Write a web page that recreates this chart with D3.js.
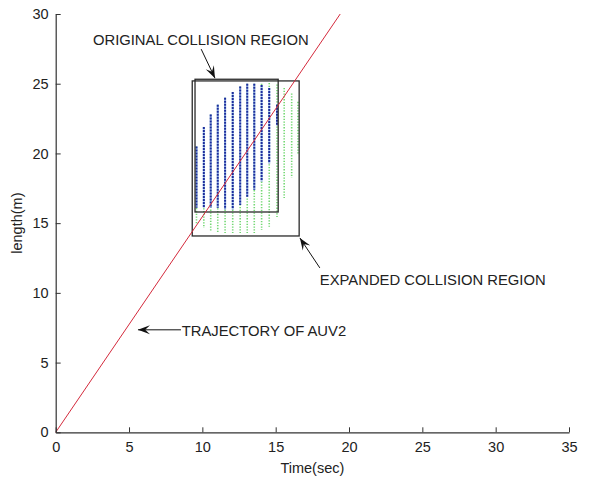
<!DOCTYPE html>
<html>
<head>
<meta charset="utf-8">
<script src="https://cdn.jsdelivr.net/npm/d3@7"></script>
<style>
  html, body { margin: 0; padding: 0; background: #fff; }
  svg { display: block; }
  text { font-family: "Liberation Sans", Arial, sans-serif; fill: #222; }
</style>
</head>
<body>
<svg id="chart" width="591" height="477"></svg>
<script>
// AUV2 trajectory (time in sec, length in m)
const trajectory = [[0, 0], [19.4, 30]];

// Sampled collision columns: time of each column and its length ranges
const colTime  = [9.6, 10.1, 10.57, 11.05, 11.55, 12.07, 12.58, 13.06, 13.54, 14.04, 14.56, 15.09, 15.58, 16.09, 16.52];
const blueLo   = [16.1, 16.1, 16.1, 16.1, 16.0, 16.0, 16.3, 16.9, 17.4, 18.0, 19.3, 22.0, null, null, null];
const blueHi   = [20.5, 21.9, 22.8, 23.5, 24.0, 24.4, 24.8, 25.0, 25.0, 24.9, 24.7, 23.5, null, null, null];
const greenLo  = [15.0, 14.65, 14.4, 14.3, 14.3, 14.3, 14.3, 14.3, 14.3, 14.5, 14.75, 15.45, 16.8, 18.25, 20.0];
const greenHi  = [20.5, 21.9, 22.8, 23.5, 24.0, 24.4, 24.8, 25.0, 25.0, 25.0, 25.05, 24.95, 24.7, 24.3, 23.7];

// Region rectangles [t0, t1, L0, L1]
const originalRegion = [9.5, 15.17, 15.8, 25.32];
const expandedRegion = [9.31, 16.6, 14.08, 25.2];

// Axis ticks
const xTicks = [0, 5, 10, 15, 20, 25, 30, 35];
const yTicks = [0, 5, 10, 15, 20, 25, 30];

// Annotations: text anchor and arrow (tail -> tip) in data units
const annotations = [
  { text: "ORIGINAL COLLISION REGION", at: [2.54, 27.75], tail: [9.92, 27.48], tip: [10.86, 25.4] },
  { text: "EXPANDED COLLISION REGION", at: [18.01, 10.57], tail: [18.01, 11.79], tip: [16.65, 13.94] },
  { text: "TRAJECTORY OF AUV2",        at: [8.59, 6.91],  tail: [8.54, 7.35],  tip: [5.61, 7.35] }
];

const svg = d3.select("#chart");
const x = d3.scaleLinear().domain([0, 35]).range([55.7, 569]);
const y = d3.scaleLinear().domain([0, 30]).range([432.3, 14]);

// Collision sample columns: green (expanded) first, blue (original) on top
const cols = colTime.map((t, i) => ({ t, bLo: blueLo[i], bHi: blueHi[i], gLo: greenLo[i], gHi: greenHi[i] }));

svg.append("g").selectAll("line").data(cols).join("line")
  .attr("x1", d => x(d.t)).attr("x2", d => x(d.t))
  .attr("y1", d => y(d.gHi)).attr("y2", d => y(d.gLo))
  .attr("stroke", "#74d874").attr("stroke-width", 1.6)
  .attr("stroke-dasharray", "1.3,1.5");

const blueCols = cols.filter(d => d.bLo != null);
svg.append("g").selectAll("line").data(blueCols).join("line")
  .attr("x1", d => x(d.t)).attr("x2", d => x(d.t))
  .attr("y1", d => y(d.bHi)).attr("y2", d => y(d.bLo))
  .attr("stroke", "#a9c9ef").attr("stroke-width", 2);
svg.append("g").selectAll("line").data(blueCols).join("line")
  .attr("x1", d => x(d.t)).attr("x2", d => x(d.t))
  .attr("y1", d => y(d.bHi)).attr("y2", d => y(d.bLo))
  .attr("stroke", "#1d2c9c").attr("stroke-width", 2)
  .attr("stroke-dasharray", "2,1");

// Region boxes
svg.append("g").selectAll("rect").data([originalRegion, expandedRegion]).join("rect")
  .attr("x", d => x(d[0])).attr("y", d => y(d[3]))
  .attr("width", d => x(d[1]) - x(d[0])).attr("height", d => y(d[2]) - y(d[3]))
  .attr("fill", "none").attr("stroke", "#2a2a2a").attr("stroke-width", 1.3);

// Trajectory line
svg.append("path").datum(trajectory)
  .attr("d", d3.line().x(d => x(d[0])).y(d => y(d[1])))
  .attr("fill", "none").attr("stroke", "#d42a3c").attr("stroke-width", 1);

// Axes (left and bottom only, ticks inward)
const axisColor = "#333";
const xAxis = svg.append("g").attr("transform", `translate(0,${y(0)})`)
  .call(d3.axisBottom(x).tickValues(xTicks).tickSizeInner(-5).tickSizeOuter(0).tickPadding(9));
const yAxis = svg.append("g").attr("transform", `translate(${x(0)},0)`)
  .call(d3.axisLeft(y).tickValues(yTicks).tickSizeInner(-5).tickSizeOuter(0).tickPadding(9));
[xAxis, yAxis].forEach(g => {
  g.select(".domain").attr("stroke", axisColor).attr("stroke-width", 1.2);
  g.selectAll(".tick line").attr("stroke", axisColor);
  g.selectAll(".tick text").attr("fill", "#222")
    .style("font-family", '"Liberation Sans", Arial, sans-serif').style("font-size", "14.5px");
});
yAxis.selectAll(".tick text").attr("x", -7);

// Axis titles
svg.append("text").attr("x", (x(0) + x(35)) / 2).attr("y", 473)
  .attr("text-anchor", "middle").style("font-size", "14.5px").text("Time(sec)");
svg.append("text").attr("transform", `translate(22,${(y(0) + y(30)) / 2}) rotate(-90)`)
  .attr("text-anchor", "middle").style("font-size", "14.5px").text("length(m)");

// Annotations with notched arrowheads
function arrowHead(tail, tip, len, wid) {
  const dx = tip[0] - tail[0], dy = tip[1] - tail[1];
  const n = Math.hypot(dx, dy), ux = dx / n, uy = dy / n;
  const px = -uy, py = ux;
  const bx = tip[0] - ux * len, by = tip[1] - uy * len;
  const nx = tip[0] - ux * len * 0.6, ny = tip[1] - uy * len * 0.6;
  return `M${tip[0]},${tip[1]}L${bx + px * wid / 2},${by + py * wid / 2}L${nx},${ny}L${bx - px * wid / 2},${by - py * wid / 2}Z`;
}
const ann = svg.append("g");
annotations.forEach(a => {
  const tail = [x(a.tail[0]), y(a.tail[1])], tip = [x(a.tip[0]), y(a.tip[1])];
  ann.append("line").attr("x1", tail[0]).attr("y1", tail[1]).attr("x2", tip[0]).attr("y2", tip[1])
    .attr("stroke", "#111").attr("stroke-width", 1);
  ann.append("path").attr("d", arrowHead(tail, tip, 12, 9)).attr("fill", "#111");
  ann.append("text").attr("x", x(a.at[0])).attr("y", y(a.at[1]))
    .style("font-size", "14.8px").text(a.text);
});
</script>
</body>
</html>
